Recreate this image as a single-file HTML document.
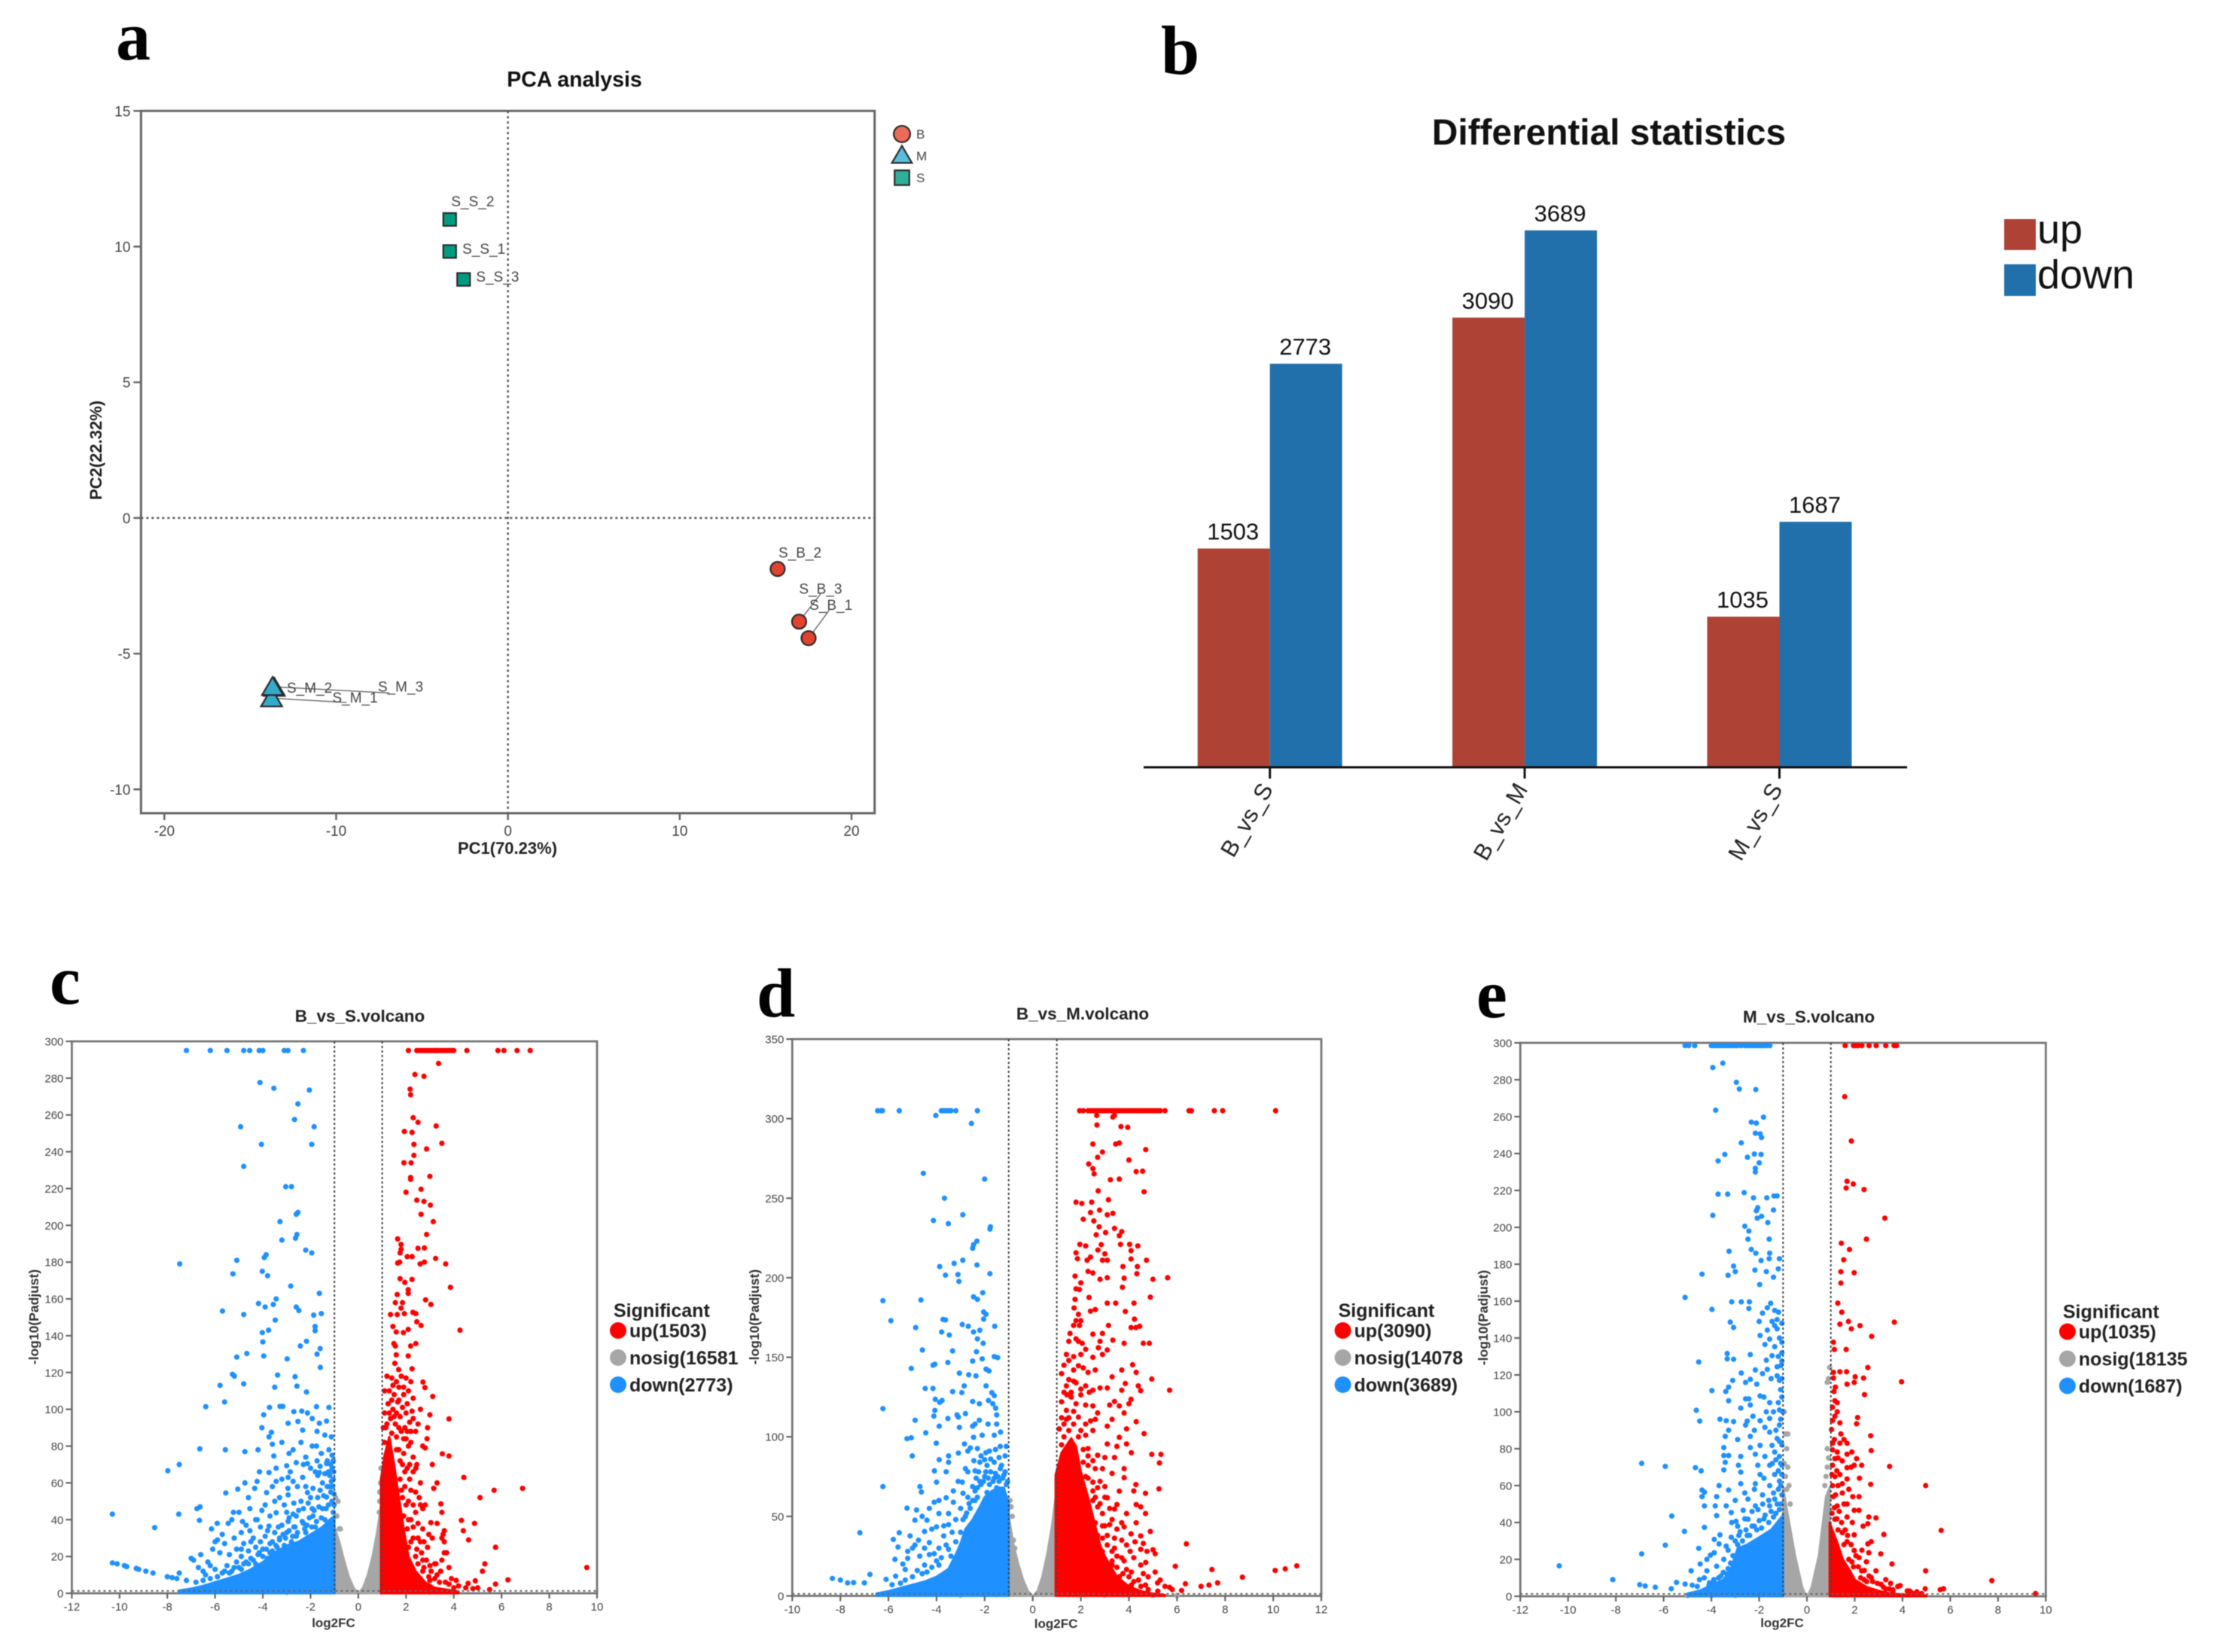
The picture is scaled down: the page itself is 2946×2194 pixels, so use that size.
<!DOCTYPE html>
<html lang="en">
<head>
<meta charset="utf-8">
<title>PCA, differential statistics and volcano plots</title>
<style>
html,body{margin:0;padding:0;background:#fff;width:2946px;height:2194px;overflow:hidden}
svg{display:block;filter:blur(0.6px)}
text{font-family:"Liberation Sans",sans-serif}
</style>
</head>
<body>
<svg id="figure" xmlns="http://www.w3.org/2000/svg" width="2946" height="2194" viewBox="0 0 2946 2194"></svg>
<script>
/* ---------- PCA data ---------- */
const pcaSamples = ["S_S_2","S_S_1","S_S_3","S_B_2","S_B_3","S_B_1","S_M_2","S_M_1","S_M_3"];
const pcaGroups = ["S","S","S","B","B","B","M","M","M"];
const pcaPC1 = [-3.39,-3.39,-2.58,15.7,16.95,17.5,-13.6,-13.76,-13.7];
const pcaPC2 = [11.0,9.82,8.79,-1.88,-3.82,-4.43,-6.25,-6.64,-6.22];
const pcaLabelPC1 = [-2.05,-1.4,-0.6,17,18.2,18.8,-11.55,-8.9,-6.25];
const pcaLabelPC2 = [11.68,9.93,8.9,-1.27,-2.6,-3.2,-6.25,-6.6,-6.2];
const pcaLinkPC1 = [null,null,null,null,18.2,18.7,null,-9.4,-6.9];
const pcaLinkPC2 = [null,null,null,null,-2.8,-3.4,null,-6.8,-6.45];
const pcaXTicks = [-20,-10,0,10,20];
const pcaYTicks = [-10,-5,0,5,10,15];
const pcaLegend = ["B","M","S"];

/* ---------- bar data ---------- */
const barCategories = ["B_vs_S","B_vs_M","M_vs_S"];
const barUp = [1503,3090,1035];
const barDown = [2773,3689,1687];

/* ---------- volcano ticks ---------- */
const volcanoXTicksCE = [-12,-10,-8,-6,-4,-2,0,2,4,6,8,10];
const volcanoXTicksD = [-10,-8,-6,-4,-2,0,2,4,6,8,10,12];
const volcanoYTicksCE = [0,20,40,60,80,100,120,140,160,180,200,220,240,260,280,300];
const volcanoYTicksD = [0,50,100,150,200,250,300,350];

/* ---------- panel c: B_vs_S ---------- */
const cDownCapX = [-7.2,-6.2,-5.5,-4.8,-4.55,-4.15,-4.0,-3.1,-2.95,-2.3];
const cDownCapValue = 295;
const cUpCapX = [2.1,2.45,2.55,2.65,2.75,2.85,2.95,3.05,3.15,3.25,3.3,3.4,3.5,3.6,3.7,3.8,3.9,4.0,4.55,5.85,6.1,6.65,7.2];
const cUpCapValue = 295;
const cDownDense = [[-7.5,1.5],[-7,2.5],[-6.5,4],[-6,6],[-5.5,8],[-5,10],[-4.5,13],[-4,17],[-3.5,22],[-3,26],[-2.5,28],[-2,32],[-1.5,36],[-1.2,40],[-1,42]];
const cUpDense = [[0.95,62],[1.1,75],[1.3,85],[1.5,70],[1.7,52],[1.9,35],[2.1,20],[2.4,12],[2.8,6],[3.2,3],[4.2,1]];
const cNosigLeft = [[-1,36],[-0.8,28],[-0.6,18],[-0.4,9],[-0.2,3],[-0.05,0.5]];
const cNosigRight = [[0.05,0.5],[0.2,3],[0.4,10],[0.6,20],[0.8,34],[0.95,48]];
const cNosigPoints = [[-0.95,52],[-0.85,50],[-0.9,42],[-0.8,35],[-0.75,35],[0.9,55],[0.93,60],[0.95,68],[0.9,50],[0.88,44],[-2,0.6],[-1.5,0.8],[1.5,0.8],[2,0.7],[3,0.6],[-3,0.5],[4,0.4]];
const cDown = [[-4.12,277.6],[-3.54,274.5],[-2.05,273.5],[-2.53,266],[-2.67,257.5],[-4.93,253.6],[-1.85,253.6],[-4.06,244],[-1.95,244],[-4.8,232],[-3.04,221],[-2.8,221],[-2.53,207],[-2.6,206],[-3.28,202],[-3.2,192],[-2.63,193],[-2.57,195],[-2.2,186.5],[-1.95,185],[-3.86,184],[-3.94,182.5],[-5.09,181],[-7.48,179],[-4.02,175],[-3.8,172.6],[-5.25,173.6],[-2.83,167],[-1.63,163],[-3.44,160],[-4.18,157.5],[-3.56,157],[-3.9,155.6],[-5.69,153.4],[-4.8,151.5],[-2.6,155.6],[-2.49,153.7],[-1.87,151.2],[-1.55,152],[-3.48,148.5],[-1.81,145],[-1.81,142.7],[-3.76,143],[-4.02,141.7],[-4,136.6],[-2.17,137],[-2.43,134.4],[-1.6,133],[-1.73,130],[-4.67,130.3],[-5.09,128.4],[-3.96,129],[-2.98,127.4],[-1.59,122.8],[-5.27,119],[-5.19,118],[-3.38,118.6],[-2.65,117.7],[-5.79,113],[-4.8,113.8],[-3.5,112],[-2.57,112.6],[-2.17,109.4],[-5.6,104],[-6.39,101.4],[-3.72,101],[-3.28,101.6],[-3.16,101.6],[-2.7,98.7],[-2.37,99],[-2.13,98],[-1.75,101.4],[-1.23,101],[-3.96,97],[-2.94,92.4],[-2.53,93.4],[-1.93,95],[-1.63,92.4],[-1.33,93.6],[-4.04,90],[-3.64,87.5],[-2.33,88.7],[-1.73,88],[-1.13,85],[-1.4,86],[-3.74,85],[-5.57,78],[-6.64,78.5],[-4.75,77],[-4.2,78],[-3.6,81],[-3.54,74.6],[-2.73,78],[-1.93,80],[-1.23,78],[-2.13,70.5],[-1.33,70.5],[-1.73,72],[-7.5,70],[-7.98,66.6],[-3,69.3],[-3.44,68],[-4.14,66],[-3.74,65.6],[-2.94,63],[-2.33,63],[-1.63,65.6],[-4.75,60],[-4.24,60.8],[-3.44,60.8],[-2.73,60.8],[-1.13,60.8],[-5.05,56.6],[-5.55,54.5],[-4.34,57],[-3.84,54.7],[-2.94,53.5],[-2.13,54.7],[-1.33,52.3],[-6.63,47],[-6.76,46],[-5.23,44],[-7.52,43],[-10.3,43],[-4.54,46],[-4.04,45],[-3.44,43.8],[-2.73,43],[-1.93,46],[-6.65,39.6],[-8.53,35.7],[-5.91,38],[-5.45,38],[-4.85,39],[-4.24,40],[-3.74,36.5],[-2.94,39],[-6.15,35],[-5.9,29],[-4.54,34],[-10.3,16.5],[-10.1,16],[-9.8,15],[-9.7,14.5],[-9.3,13.5],[-9.2,13],[-8.9,12],[-8.6,11],[-8,9],[-7.8,8.5],[-7.6,8],[-7.5,11],[-7.2,7],[-7,19],[-6.9,18],[-6.7,14],[-6.5,12],[-6.3,17],[-6.2,15],[-6,13],[-6.4,10],[-5.9,9],[-5.7,11],[-5.5,15],[-5.3,12],[-5.1,17],[-5,14],[-4.9,20],[-4.7,17],[-4.6,23],[-4.5,19],[-4.3,25],[-4.2,21],[-4.1,28],[-4,24],[-3.9,31],[-3.8,19],[-3.7,27],[-3.6,23],[-3.5,33],[-3.4,25],[-3.3,30],[-3.2,37],[-3.1,26],[-3,33],[-2.9,41],[-2.8,28],[-2.7,36],[-2.6,31],[-2.5,45],[-2.4,27],[-2.3,38],[-2.2,33],[-2.1,49],[-2,30],[-1.9,42],[-1.8,36],[-1.7,52],[-1.6,34],[-1.5,46],[-1.4,40],[-1.3,58],[-1.2,38],[-1.1,50],[-1.05,44],[-1.05,62],[-1.1,68],[-1.2,64],[-1.3,72],[-1.5,60],[-1.7,64],[-1.9,57],[-2.2,58],[-2.4,50],[-2.7,49],[-3.1,48],[-3.5,50],[-3.9,48],[-4.3,40],[-4.7,37],[-5.2,30],[-5.6,27],[-5.8,22],[-6.1,24],[-6.6,21],[-4.9,33]];
const cDownMid = [[-6.8,6],[-6.5,7],[-6.2,8],[-5.9,9],[-5.6,12],[-5.4,11],[-5.2,14],[-4.9,13],[-4.8,16],[-4.6,16],[-4.4,18],[-4.3,16],[-4.15,22],[-4,20],[-3.85,24],[-3.7,22],[-3.6,28],[-3.45,26],[-3.3,29],[-3.15,32],[-3.05,30],[-2.9,34],[-2.75,31],[-2.65,36],[-2.55,33],[-2.35,39],[-2.25,35],[-2.15,37],[-2.05,41],[-1.95,36],[-1.85,45],[-1.75,39],[-1.65,47],[-1.55,41],[-1.45,53],[-1.35,46],[-1.25,48],[-1.15,55],[-1.08,58],[-1.02,48],[-1.02,54],[-1.03,66],[-1.1,75],[-1.05,72],[-1.15,70],[-1.25,66],[-1.4,65],[-1.6,69],[-1.8,66],[-2,68],[-2.3,70],[-2.6,71],[-2.85,66],[-3.2,62],[-3.6,58],[-3.3,52],[-3,44],[-2.6,42],[-2.3,46],[-2,52],[-1.6,56],[-1.2,58],[-3.7,42],[-4.1,36],[-4.4,30],[-4.8,27],[-5.1,24],[-5.4,21],[-3.35,36],[-3.8,34],[-2.95,57],[-2.55,58],[-4.6,52],[-5.3,40],[-6,28],[-5.7,32],[-5,44],[-4.5,28],[-4.9,24],[-1.75,80],[-2.4,82],[-3.2,82],[-2.9,76],[-2.2,74],[-1.55,76]];
const cUp = [[3.36,288],[2.37,282],[2.75,281],[2.17,274],[2.19,271],[2.3,258.5],[2.5,256],[3.26,254],[1.93,251],[2.25,250.5],[2.33,244],[3.5,244.6],[2.86,241.5],[2.33,238],[1.91,234],[2.21,234],[3,226.6],[2.19,226],[2.19,225],[2.63,219.6],[2,218],[2.45,213.7],[2.75,213],[3.02,211],[2.63,206],[3.14,202],[2.86,195],[1.65,192.6],[1.79,189.6],[2.5,187.5],[2.77,187.7],[1.79,187],[1.75,185],[2.05,183],[2.25,183],[3.24,182],[1.73,180],[1.65,179.5],[2.77,180],[2.59,179],[3.66,179],[1.75,171],[2.25,170.6],[1.95,169],[2.09,165],[3.86,166.3],[1.63,162.4],[2.09,163],[2.82,159.5],[3.04,157],[1.55,158],[1.85,158],[1.79,155],[1.35,151.5],[1.63,151.5],[2.29,152.7],[2.41,152],[1.93,152],[1.45,145],[2.63,145.6],[2.45,147.6],[1.59,142],[2.09,143.4],[1.89,141.7],[4.26,143],[1.49,135.7],[1.55,134.4],[2.19,134.4],[2.41,135.7],[1.59,129.6],[2.09,129],[1.53,125],[2.25,122],[1.69,121.6],[2.71,114.8],[2.79,111.8],[3.12,107],[3,97],[3.8,94.8],[2.9,90],[2.88,84],[2.8,79],[3.52,75.8],[3.8,74.6],[2.41,68],[4.42,63],[3.16,57],[6.88,57],[5.69,56],[5.1,52],[3.46,48.6],[2.8,48],[4.32,39.6],[4.87,38],[3.04,38.4],[4.4,34],[4.62,29],[5.75,25],[5.3,16],[5.2,12],[9.57,14],[6.27,7.3],[4.9,6.8],[5.75,5],[3.6,34],[3.6,22],[3.2,16],[2.7,12],[4.1,7],[4.6,5.4],[1.4,117],[1.6,115],[1.8,118],[2,117],[1.3,110],[1.5,108],[1.7,112],[1.9,108],[2.1,110],[2.3,106],[1.25,103],[1.45,100],[1.65,104],[1.85,101],[2.05,103],[2.25,99],[1.1,98],[1.35,95],[1.55,92],[1.75,96],[1.95,90],[2.15,93],[1.15,90],[1.4,87],[1.6,85],[1.8,88],[2,84],[2.2,88],[2.4,88],[1.1,82],[1.7,78],[1.9,76],[2.1,80],[1.85,70],[2.05,68],[2.3,66],[1.75,62],[1.95,58],[2.15,62],[2.4,55],[2.6,60],[1.85,52],[2.1,50],[2.3,48],[2.6,48],[1.9,42],[2.2,40],[2.5,38],[2.7,35],[2.05,35],[2.3,30],[2.6,28],[2.9,25],[2.1,25],[2.4,20],[2.7,18],[3,15],[3.5,18],[3.7,22],[3.6,28],[3.55,32],[2.2,12],[2.6,8],[3,7],[3.4,6],[3.8,5],[4,3],[2.4,5],[3.3,10]];
const cUpMid = [[1.05,90],[1.2,92],[1.3,98],[1.5,96],[1.4,105],[1.6,98],[1.7,90],[1.9,84],[2.05,88],[2.2,82],[1.6,78],[1.75,72],[1.95,66],[2.15,70],[2.3,74],[2.45,70],[1.8,56],[2,48],[2.2,56],[2.4,44],[2.55,52],[2.7,46],[2.1,40],[2.3,36],[2.5,30],[2.75,28],[2.95,32],[2.2,28],[2.45,24],[2.65,22],[2.85,18],[3.05,12],[3.25,16],[2.5,16],[2.75,14],[2.95,9],[3.2,8],[3.45,12],[3.65,6],[3.9,8],[4.2,4],[4.5,3],[3.1,30],[3.3,38],[3.5,44],[1.2,118],[1.45,113],[1.7,105],[1.9,112],[2.2,115],[2.0,98],[2.3,95],[1.1,110],[2.5,92],[2.6,100],[2.7,80],[3.1,70],[3.3,60],[3.5,30],[3.8,14],[5,3],[5.5,2],[4.8,2.5]];

/* ---------- panel d: B_vs_M ---------- */
const dDownCapX = [-6.45,-6.3,-6.25,-5.55,-3.8,-3.7,-3.6,-3.5,-3.4,-3.2,-2.3];
const dDownCapValue = 305;
const dUpCapX = [1.95,2.1,2.3,2.4,2.5,2.6,2.7,2.8,2.9,3.0,3.1,3.2,3.3,3.4,3.5,3.6,3.7,3.8,3.9,4.0,4.1,4.2,4.3,4.4,4.5,4.6,4.7,4.8,4.9,5.0,5.1,5.2,5.3,5.5,6.5,6.6,7.55,7.9,10.1];
const dUpCapValue = 305;
const dDownDense = [[-6.5,1.5],[-6,3],[-5.5,5],[-5,7],[-4.5,9],[-4,12],[-3.5,17],[-3.2,26],[-3,33],[-2.8,42],[-2.5,48],[-2.2,56],[-2,62],[-1.7,66],[-1.4,68],[-1.2,68],[-1,58]];
const dUpDense = [[0.95,76],[1.2,90],[1.6,99],[1.8,94],[2,78],[2.3,62],[2.5,50],[2.8,32],[3,25],[3.5,12],[4,6],[4.5,3],[5,1.5],[5.5,0.5]];
const dNosigLeft = [[-1,50],[-0.8,32],[-0.6,20],[-0.4,10],[-0.2,3],[-0.05,0.5]];
const dNosigRight = [[0.05,0.5],[0.2,3],[0.4,12],[0.6,26],[0.8,44],[0.95,62]];
const dNosigPoints = [[-0.95,60],[-0.9,56],[-0.85,50],[-0.9,35],[-0.8,35],[-0.75,30],[-2,0.6],[-1.5,0.8],[1.5,0.8],[2,0.7],[3,0.6],[-3,0.5],[4,0.4],[5,0.4],[6,0.3]];
const dDown = [[-4.03,302],[-2.55,297],[-4.55,265.6],[-2,262],[-3.67,250],[-2.91,239.6],[-4.13,236],[-3.51,234],[-1.76,232],[-1.78,230.6],[-2.32,223],[-2.5,218.5],[-2.46,220.8],[-3.87,207],[-3.27,209],[-2.91,211],[-2.32,208],[-3.63,201.6],[-3.11,202],[-3.07,197.7],[-1.78,202.5],[-6.23,185.6],[-4.65,186],[-2.46,188],[-2.08,190.6],[-2.3,186.4],[-2.04,178.5],[-1.94,177],[-2.04,174],[-5.9,173],[-3.73,173.8],[-3.63,173.5],[-2.93,170.6],[-2.68,169.5],[-1.58,169.5],[-4.87,168.7],[-3.79,165.9],[-3.47,164],[-2.46,165.9],[-2.2,167],[-2.3,161.6],[-2.06,158.8],[-4.59,154.6],[-3.33,154],[-2.34,153.5],[-1.6,150.4],[-1.46,149.8],[-2.5,147.6],[-2.1,149],[-5.05,143],[-4.15,145],[-4.07,145.6],[-3.53,146.7],[-1.94,142.5],[-1.82,141.4],[-3.05,140],[-2.66,139],[-2.36,138.3],[-2.85,132],[-4.47,130.4],[-4.15,130.4],[-1.94,132],[-3.33,128.4],[-2.95,127.8],[-1.7,127.8],[-1.6,125.9],[-4.05,123.6],[-3.87,121.7],[-3.77,122.8],[-2.5,122.2],[-2.22,120.8],[-1.84,122.8],[-1.66,120.8],[-6.23,117.7],[-4.07,116.6],[-1.54,118],[-4.11,113],[-3.15,113.8],[-2.8,114.6],[-1.5,113.8],[-4.89,110.4],[-3.53,111.5],[-3.09,112.4],[-2.22,110.4],[-2.4,108],[-2.5,106.7],[-1.86,108],[-1.5,108],[-3.89,106.7],[-3.05,105.9],[-4.45,102.5],[-1.34,103],[-5.23,98.8],[-5.05,99.4],[-2.46,99.7],[-2.1,101],[-1.6,101],[-4.01,96],[-2.84,95.5],[-3.09,89.8],[-2.7,91],[-2.3,92.6],[-1.8,91],[-1.1,94],[-5.01,88],[-3.89,85.6],[-3.5,84],[-2,85.6],[-1.4,87],[-4.09,78.6],[-2.8,80],[-2.4,78.6],[-3.5,88],[-4.69,68.7],[-6.23,68.7],[-4.63,65.3],[-4,71.5],[-2.93,71.5],[-2.5,68.7],[-3.6,61.7],[-3.3,58.9],[-2.9,64.5],[-4.1,58.9],[-5.23,55.2],[-4.83,54],[-4.6,50],[-3.9,51.8],[-3.5,51.8],[-4.4,47.6],[-4.9,47.6],[-7.19,39.7],[-5.55,39.7],[-5.8,35.5],[-5.1,37.7],[-4.5,40.5],[-4,43.4],[-3.5,44.8],[-5.6,30.7],[-4.9,32],[-4.3,33.5],[-3.7,37.7],[-5.73,23],[-5.2,23.6],[-4.7,25],[-4.1,26.5],[-3.5,29.3],[-5.3,16.6],[-4.5,19.4],[-3.9,19.4],[-8.33,11],[-8,10],[-7.7,8.2],[-7.45,8.4],[-7,8.2],[-6.77,13.5],[-6.1,10.4],[-5.7,12.4],[-2.6,55],[-2.4,60],[-2.2,72],[-2,75],[-1.8,70],[-1.6,74],[-1.4,72],[-1.2,76],[-1.1,70],[-2.8,50],[-1.9,65],[-2.3,68],[-1.5,68],[-1.3,82],[-1.6,84],[-1.9,82],[-2.2,84]];
const dDownMid = [[-3.4,25],[-3.2,34],[-3,40],[-2.9,48],[-2.75,52],[-2.65,58],[-2.5,60],[-2.4,66],[-2.3,62],[-2.15,70],[-2.05,72],[-1.95,78],[-1.85,74],[-1.75,78],[-1.65,72],[-1.55,77],[-1.45,75],[-1.35,80],[-1.25,74],[-1.15,78],[-1.05,72],[-2.25,78],[-2.35,74],[-2.45,85],[-2.15,88],[-1.95,90],[-1.75,86],[-1.55,92],[-1.35,94],[-1.15,88],[-2.7,62],[-3,55],[-3.2,48],[-3.35,40],[-3.6,32],[-3.8,24],[-4,22],[-4.2,18],[-4.4,15],[-4.6,14],[-4.8,16],[-5,12],[-5.3,10],[-5.5,8],[-5.85,7],[-3.7,44],[-3.3,66],[-3.1,72],[-2.7,78],[-3.9,30],[-4.3,26],[-4.5,30],[-4.75,35],[-5,30],[-5.2,28],[-5.4,20],[-4.2,42],[-3.9,60],[-4.3,55],[-3.6,78],[-2.6,93]];
const dUp = [[2.66,302],[3.33,301],[3.4,302],[2.67,296],[3.67,295],[3.95,294.6],[2.5,284],[3.45,284],[3.6,284.7],[4.7,280.5],[2.9,279],[2.7,275.7],[4,274],[2.33,271.5],[2.5,268.6],[2.55,265.3],[4.3,266.7],[4.57,267],[3.23,261.6],[3.6,262],[4.63,254],[2.72,254.6],[1.8,247.5],[2.04,246.7],[2.45,247.5],[3.15,249],[2.78,242.5],[2.4,241],[3.1,239.6],[3.33,240.5],[2.1,236.8],[2.54,235.7],[2.76,232],[3.4,231],[2.64,227],[3.03,228.4],[3.7,229],[3.6,226.4],[1.96,221],[2.2,220],[2.85,220.8],[3.65,221],[4.03,221],[4.37,220],[1.8,215.7],[2.71,217.4],[1.86,212],[2.4,213],[3,215],[4.09,217],[4.73,211],[2.26,211],[2.9,211],[3.1,211],[2.3,204],[2.5,203],[3.75,207],[4.35,207],[4.09,211.8],[4.33,202.5],[5,199],[5.61,200],[1.76,201],[2,196.8],[2.8,199],[3.1,200],[3.8,199.7],[3.73,194],[2.34,187.6],[1.8,193],[1.94,192.6],[4.89,187.8],[4.21,184],[3.1,184],[3.45,184],[1.76,186.4],[1.72,181],[2.6,180],[2.4,179],[3.85,178.8],[1.9,177],[1.8,173],[2,173],[4.23,174],[3.15,170],[4.09,168.7],[4.29,168.7],[4.45,169.5],[1.94,170],[2.5,164.5],[2.9,165],[1.8,161.6],[1.5,160],[2.06,158.8],[3.33,160.8],[3.8,158.8],[4.6,158.8],[4.85,158.8],[2.8,160],[2.73,156],[1.4,151.8],[2,151.8],[1.7,150.4],[3.1,154.6],[2.9,151.8],[4.15,145.3],[4.3,140.5],[3.7,142],[1.2,139.7],[1.9,144.7],[2.1,143.3],[2.3,140.5],[4.95,136.3],[5.69,129.3],[1.5,136],[1.7,135],[3.3,137.7],[3.85,133.5],[4.39,132],[4.49,129],[3.1,130.7],[2.8,130.7],[2.5,129.3],[1.42,126.4],[2,126.4],[3.7,129.3],[4.09,123.6],[4,120.8],[3.4,122.2],[3.6,119.4],[2.5,119.4],[1.8,120.8],[1.4,116.6],[2.7,115],[3.8,115],[4.3,109.5],[3.3,111],[3.1,106.7],[1.4,111],[1.9,112.4],[2.2,108],[2.6,111],[4.63,102],[3.6,99.7],[3.1,95.5],[2.5,104],[2.2,101],[3.5,94],[3.9,95.5],[4.95,89],[5.33,89],[5.27,83.6],[2.7,88.4],[3,87],[3.4,87],[2.3,92.6],[3.8,80],[2.6,80],[2.9,80],[3.3,77],[3.8,74.3],[4.29,70],[4.2,66],[4.69,64.5],[5.25,67.3],[2.5,71.5],[3,68.7],[3.6,65.9],[2.5,60],[3.1,61.7],[3.5,57.4],[4.3,57.4],[4.49,56],[4.69,51.8],[2.9,51.8],[3.4,54.6],[3.9,51.8],[2.6,46],[3.2,44.8],[3.8,43.4],[4.3,46],[4.89,40.5],[4.49,37.7],[4.09,39],[3.4,36.3],[2.9,36.3],[5,29],[6.39,32.7],[5.09,26.5],[4.49,29.3],[3.9,32],[2.9,27.9],[3.5,25],[2.7,22],[3.3,19.4],[4.49,19.4],[5.09,15],[5.93,18.6],[3.9,16.6],[7.45,16.6],[8.72,11.8],[10.08,16],[10.5,17],[10.98,18.9],[7.69,8.2],[7.33,6.8],[7,6],[6.35,7.6],[5.69,5.4],[5.19,8.2],[4.69,6.8],[4.1,6.8],[3.1,8],[6.19,3.4],[1.3,100],[1.5,104],[1.7,108],[2,104],[1.2,112],[1.6,125],[1.3,128],[1.1,105],[1.2,95],[2.3,82],[2.5,85],[2.2,75],[2.7,68],[2.8,58],[3.3,48],[3.7,46],[3.1,38],[3.3,28],[3.7,24],[4.2,24],[4.7,21],[3,16],[3.6,12],[4.4,10],[2.8,12],[4.8,12]];
const dUpMid = [[1.1,105],[1.3,108],[1.5,112],[1.7,116],[1.9,100],[2.1,92],[2.3,88],[1.2,122],[1.4,132],[1.6,128],[1.8,134],[2,130],[2.2,120],[2.4,110],[1.3,145],[1.5,148],[1.7,142],[2.2,132],[2.35,128],[2.1,84],[2.3,74],[2.5,66],[2.7,56],[2.9,44],[3.1,32],[3.3,22],[3.5,18],[3.75,14],[4,12],[4.2,9],[4.5,6],[4.8,4],[5.2,3],[2.6,62],[2.8,72],[3,62],[3.2,55],[3.5,42],[3.7,35],[4.05,28],[4.25,34],[4.6,33],[4.75,28],[2.7,38],[3,44],[3.4,30],[3.8,22],[4.1,15],[4.6,14],[5.3,10],[5.5,6],[5.8,4],[1.55,165],[1.7,170],[2.2,155],[2.5,150],[2.6,142],[1.9,160],[3.2,120],[3.9,105],[4.1,90]];

/* ---------- panel e: M_vs_S ---------- */
const eDownCapX = [-5.1,-4.95,-4.7,-4.0,-3.9,-3.8,-3.7,-3.6,-3.5,-3.4,-3.3,-3.2,-3.1,-3.0,-2.9,-2.75,-2.6,-2.5,-2.4,-2.3,-2.2,-2.1,-2.0,-1.9,-1.8,-1.7,-1.55];
const eDownCapValue = 298.5;
const eUpCapX = [1.6,1.95,2.05,2.15,2.3,2.6,2.9,3.3,3.65,3.75];
const eUpCapValue = 298.5;
const eDownDense = [[-5,1.5],[-4.5,3],[-4,6],[-3.5,9],[-3.2,14],[-3,22],[-2.9,26],[-2.5,28],[-2,32],[-1.5,36],[-1,44]];
const eUpDense = [[0.95,40],[1.1,35],[1.3,28],[1.5,20],[1.8,14],[2,9],[2.5,5],[3,3],[3.5,1.5],[4,1],[5,0.4]];
const eNosigLeft = [[-1,59],[-0.8,44],[-0.5,22],[-0.2,5],[-0.05,0.5]];
const eNosigRight = [[0.05,0.5],[0.2,5],[0.5,22],[0.8,54],[0.95,59]];
const eNosigPoints = [[-0.95,100],[-0.9,88],[-0.8,88],[-0.85,80],[-0.95,72],[-0.9,65],[-0.85,58],[0.85,80],[0.9,75],[0.85,116],[0.95,124],[0.9,118],[0.85,70],[0.75,60],[-0.8,70],[-0.75,60],[-0.7,50],[0.8,65],[-2,0.6],[-3,0.5],[2,0.6],[4,0.4],[-4,0.4],[-5,0.4]];
const eDown = [[-3.52,289],[-3.94,286.6],[-2.95,278.6],[-2.83,275],[-2.14,274.7],[-3.82,263.5],[-1.82,259.7],[-2.33,257],[-2.12,256.5],[-2.16,251],[-1.96,250.7],[-1.9,248.7],[-2.75,245.8],[-3.44,239.5],[-2.2,239.7],[-1.92,239.5],[-2.49,238],[-3.72,236],[-2,235],[-2.16,232],[-2.16,230],[-2.63,218.8],[-3.72,218],[-3.32,218],[-2.24,216],[-1.68,216],[-1.38,217],[-1.25,217],[-2.06,210.6],[-2.12,209],[-1.4,209.4],[-3.94,206.5],[-1.9,206],[-2.08,205],[-1.64,202.6],[-2.6,200.6],[-2.43,198],[-2.47,193.6],[-1.58,193.6],[-3.26,187],[-2.33,188],[-2.14,186],[-1.56,186],[-1.15,183],[-1.58,183],[-1.92,182],[-3.07,179],[-3,176],[-2.18,176.8],[-1.7,176],[-1.2,177.5],[-4.39,174.6],[-3.3,174],[-1.4,173],[-1.98,169],[-5.1,162],[-3.15,159.6],[-2.75,159.6],[-2.41,159.6],[-1.52,158.8],[-3.98,155.5],[-2.43,156],[-1.66,156.4],[-1.86,153.5],[-1.19,154],[-3.21,148.6],[-2,149],[-1.46,149],[-3.07,145.7],[-1.35,146.7],[-1.25,145],[-1.66,144.3],[-1.96,141.4],[-1.05,137.7],[-1.56,139.4],[-1.76,136.5],[-1.35,135.3],[-3.34,131.6],[-3.34,128.7],[-3.07,128.5],[-2.37,131],[-4.53,127],[-1.7,128],[-1.46,130.4],[-1.05,127.5],[-1.25,124.4],[-2.75,121],[-1.66,123],[-2.16,122.7],[-1.86,120.7],[-1.25,119.5],[-3.11,117],[-2.37,117.6],[-2.57,115.9],[-1.15,117],[-2.1,115],[-3.98,111.5],[-3.4,111],[-3.28,113.4],[-2.57,107],[-2.43,107],[-1.96,108.6],[-1.8,108],[-3.28,106],[-1.56,105],[-4.63,100.8],[-2.77,102],[-2.37,103.7],[-1.15,101],[-1.02,100],[-4.49,95],[-3.64,96],[-3.38,95.2],[-3.07,94.7],[-2.26,97.6],[-1.96,95.2],[-1.56,96.4],[-2.57,92.8],[-1.76,91.6],[-2.37,86.7],[-3.42,86.7],[-3.28,90],[-1.56,89],[-1.15,92.8],[-1.25,85.5],[-3.48,80.6],[-2.37,80.6],[-1.96,81.8],[-1.46,81.8],[-3.48,76.3],[-3.28,76.3],[-2.77,75.8],[-2.16,77],[-1.76,75.8],[-1.35,78.2],[-1.15,75.8],[-3.42,72.6],[-6.92,72.1],[-5.93,70.4],[-4.67,69.7],[-4.43,68],[-2.87,71],[-2.06,71],[-1.56,71],[-1.05,71],[-3.48,68.5],[-2.77,67.3],[-1.96,66],[-1.35,66],[-3.68,60],[-4.39,57.6],[-4.29,56.4],[-4.39,54],[-3.78,54],[-3.28,57.6],[-2.77,61],[-2.16,61],[-1.56,60],[-1.15,62.4],[-2.47,52.7],[-1.86,55],[-1.35,52.7],[-4.29,49],[-3.38,49],[-3.84,49],[-2.67,46.6],[-2.16,49],[-1.56,49],[-5.66,43.5],[-3.78,43.7],[-3.17,45.4],[-4.29,37.4],[-5.13,35.2],[-2.97,40.6],[-2.47,41.8],[-3.64,33.3],[-3.88,30.8],[-3.17,32],[-5.93,27.7],[-4.53,26],[-3.68,28.4],[-3.38,27.2],[-6.92,23],[-4.04,22.3],[-3.88,23.6],[-4.19,20],[-3.48,20],[-10.37,16.5],[-4.47,17.5],[-3.78,16.3],[-4.85,13.8],[-4.19,13.8],[-8.13,9],[-5.46,7.5],[-7,6.3],[-6.77,5.6],[-6.35,4.9],[-5.68,4.1],[-5.1,6.6],[-4.59,5.3],[-4.08,7.3],[-2.8,35],[-2.5,33],[-2.9,28],[-2.2,38],[-1.8,42],[-1.3,45],[-1.1,50],[-2.7,25],[-3.1,22],[-3.3,15],[-3.6,11],[-3.9,9]];
const eDownMid = [[-3,30],[-2.85,33],[-2.7,30],[-2.55,36],[-2.4,33],[-2.3,38],[-2.1,36],[-2,41],[-1.9,37],[-1.75,44],[-1.6,40],[-1.5,46],[-1.4,43],[-1.25,50],[-1.15,47],[-1.05,55],[-1.1,60],[-1.2,58],[-1.4,56],[-1.6,52],[-1.85,50],[-2.05,47],[-2.3,46],[-2.6,42],[-2.9,38],[-3.2,18],[-3.35,12],[-3.5,13],[-3.7,10],[-3.9,8],[-4.1,6],[-4.3,10],[-4.5,9],[-4.8,6],[-1.05,66],[-1.1,72],[-1.2,68],[-1.3,74],[-1.45,72],[-1.15,84],[-1.05,82],[-1.3,90],[-1.1,96],[-1.05,108],[-1.1,112],[-1.2,105],[-1.4,100],[-1.7,100],[-1.05,118],[-1.1,125],[-1.05,132],[-1.15,140],[-1.25,150],[-1.35,155],[-1.05,148],[-1.2,130],[-1.5,118],[-2.5,95],[-2.2,90],[-2.9,85],[-1.8,64],[-2.2,58],[-2.6,56],[-3,52],[-3.15,40],[-3.3,25]];
const eUp = [[1.58,270.8],[1.86,246.8],[1.68,225],[1.94,223.5],[1.64,221.3],[2.39,220.5],[3.26,205],[2.49,193.6],[1.44,191.4],[1.78,188],[1.54,182.4],[1.42,175.9],[1.98,175.4],[1.42,169.8],[1.29,158.9],[1.46,154],[1.74,149],[1.38,147.5],[2.22,146.7],[3.66,148.6],[1.86,145],[2.71,140.9],[1.11,137.7],[1.64,133.8],[1.15,133.8],[2.55,124],[1.11,121.4],[1.38,121.7],[1.66,121.7],[2.02,119],[2.37,118.3],[1.11,118.3],[1.98,115.9],[1.68,115],[3.96,116.3],[1.19,113.4],[1.13,111],[2.41,109.3],[1.17,106],[1.27,105],[1.07,102.5],[1.27,100],[2.12,96.9],[1.17,97.6],[2.08,93.5],[1.07,95.2],[1.38,94],[1.03,90.4],[2.67,87],[1.42,88],[2.69,79],[1.07,83],[1.38,83],[1.68,83],[1.07,79.4],[1.27,78.2],[1.68,77],[1.88,78.2],[1.17,74.6],[1.48,73.4],[2.08,74.6],[2.29,71],[3.46,70.4],[1.98,71],[1.07,71],[1.68,69.7],[1.38,66],[1.17,64.9],[1.68,63.6],[2.67,60.7],[4.97,60],[1.48,61],[1.07,60],[1.92,54],[2.18,54],[1.68,50],[1.27,49],[1.48,56],[1.98,46.6],[2.18,46.6],[2.59,43],[2.89,42.5],[2.55,39.3],[1.68,43],[1.17,41.8],[5.62,35.7],[3.22,33.5],[1.98,33.3],[1.48,34.5],[2.69,29.6],[2.55,28.4],[1.68,29.6],[3.09,23],[2.59,23.6],[1.98,24.8],[2.18,21],[3.56,17.5],[2.49,18.7],[1.88,18.7],[4.97,13.8],[2.89,13.8],[2.29,13.8],[7.74,8.5],[9.57,1.5],[5.72,4.1],[5.58,3.6],[3.8,5.3],[3.9,5.8],[4.2,2.9],[4.6,2.4],[4.95,4.1],[3.3,4],[3.1,6.5],[2.69,10.2],[2.39,9]];
const eUpMid = [[1.05,45],[1.15,48],[1.1,54],[1.25,42],[1.35,46],[1.2,55],[1.3,60],[1.05,66],[1.25,68],[1.55,50],[1.45,40],[1.6,36],[1.3,36],[1.7,33],[1.85,28],[2.05,22],[2.3,25],[2.15,16],[2.4,14],[2.6,11],[2.75,8],[2.95,7],[3.2,5],[3.45,4],[3.6,3.5],[1.75,20],[1.55,28],[1.95,16],[2.25,10],[2.5,8],[1.15,85],[1.3,75],[1.55,85],[1.85,70],[1.75,58],[2.2,64],[1.9,40],[2.35,38],[3.6,2.5],[4.3,2.8],[4.4,1.8],[4.8,1.5],[3.3,9],[3.5,7]];

/* ---------- drawing helpers ---------- */
const SVGNS = "http://www.w3.org/2000/svg";
const fig = document.getElementById("figure");
function linear(d0, d1, r0, r1) { return v => r0 + (v - d0) * (r1 - r0) / (d1 - d0); }
function shape(parent, tag, attrs, name) {
  const el = document.createElementNS(SVGNS, tag);
  for (const k in attrs) el.setAttribute(k, attrs[k]);
  
  
  parent.appendChild(el);
  return el;
}
function group(parent, name) { return shape(parent, "g", {}, name); }
function label(parent, x, y, str, size, name, o) {
  o = o || {};
  const a = { x: x, y: y, "font-size": size, fill: o.fill || "#444", "text-anchor": o.anchor || "start", "font-weight": o.weight || "normal" };
  if (o.rot) a.transform = "rotate(" + o.rot + " " + x + " " + y + ")";
  if (o.family) a.style = "font-family:" + o.family;
  const el = shape(parent, "text", a, name);
  el.textContent = str;
  return el;
}
const SERIF = '"Liberation Serif",serif';
const panelLetters = [["a",154,79],["b",1542,98],["c",66,1333],["d",1005,1350],["e",1961,1351]];
panelLetters.forEach(p => label(fig, p[1], p[2], p[0], 92, "panel-letter-" + p[0], { fill: "#000", weight: "bold", family: SERIF }));

/* ---------- panel a ---------- */
(function () {
  const L = 187.3, R = 1161.7, T = 147.3, B = 1080;
  const x = linear(-20, 20, 218.3, 1131);
  const y = linear(-10, 15, 1048.3, T);
  const g = group(fig, "pca-chart");
  label(g, 763, 115, "PCA analysis", 28.5, "pca-title", { anchor: "middle", weight: "bold", fill: "#111" });
  shape(g, "rect", { x: L, y: T, width: R - L, height: B - T, fill: "#fff", stroke: "#666", "stroke-width": 3 }, "pca-plot-frame");
  shape(g, "line", { x1: x(0), x2: x(0), y1: T, y2: B, stroke: "#555", "stroke-width": 2.5, "stroke-dasharray": "3 4" }, "pca-zero-vertical");
  shape(g, "line", { x1: L, x2: R, y1: y(0), y2: y(0), stroke: "#555", "stroke-width": 2.5, "stroke-dasharray": "3 4" }, "pca-zero-horizontal");
  pcaXTicks.forEach(t => {
    shape(g, "line", { x1: x(t), x2: x(t), y1: B, y2: B + 9, stroke: "#666", "stroke-width": 2.5 }, "pca-x-tick");
    label(g, x(t), B + 30, String(t), 19, "pca-x-tick-label", { anchor: "middle" });
  });
  pcaYTicks.forEach(t => {
    shape(g, "line", { x1: L - 10, x2: L, y1: y(t), y2: y(t), stroke: "#666", "stroke-width": 2.5 }, "pca-y-tick");
    label(g, L - 14, y(t) + 7, String(t), 19, "pca-y-tick-label", { anchor: "end" });
  });
  label(g, 674, 1134, "PC1(70.23%)", 22, "pca-x-axis-title", { anchor: "middle", weight: "bold", fill: "#222" });
  label(g, 135, 598, "PC2(22.32%)", 22, "pca-y-axis-title", { anchor: "middle", weight: "bold", fill: "#222", rot: -90 });
  const fills = { B: "#E1432E", M: "#35ABCB", S: "#009B82" };
  function marker(parent, grp, cx, cy, k, fill, name) {
    const st = { fill: fill, stroke: "#2b2b2b", "stroke-width": 2.2 };
    if (grp === "B") return shape(parent, "circle", Object.assign({ cx: cx, cy: cy, r: 9.5 * k }, st), name);
    if (grp === "S") return shape(parent, "rect", Object.assign({ x: cx - 8.5 * k, y: cy - 8.5 * k, width: 17 * k, height: 17 * k }, st), name);
    const h = 13 * k, w = 14 * k;
    return shape(parent, "polygon", Object.assign({ points: [cx, cy - h, cx + w, cy + h - 2, cx - w, cy + h - 2].join(",") }, st), name);
  }
  pcaSamples.forEach((s, i) => {
    if (pcaLinkPC1[i] !== null) {
      shape(g, "line", { x1: x(pcaPC1[i]), y1: y(pcaPC2[i]), x2: x(pcaLinkPC1[i]), y2: y(pcaLinkPC2[i]), stroke: "#666", "stroke-width": 1.4 }, "pca-label-connector");
    }
  });
  pcaSamples.forEach((s, i) => {
    marker(g, pcaGroups[i], x(pcaPC1[i]), y(pcaPC2[i]), 1, fills[pcaGroups[i]], "pca-point-" + s);
  });
  pcaSamples.forEach((s, i) => {
    label(g, x(pcaLabelPC1[i]), y(pcaLabelPC2[i]) + 7, s, 19, "pca-point-label", { anchor: "middle" });
  });
  const legendFills = { B: "#EC6B58", M: "#58BEDB", S: "#2FB098" };
  const lg = group(g, "pca-legend");
  pcaLegend.forEach((s, i) => {
    const cy = 178 + i * 29;
    marker(lg, s, 1198, cy + (s === "M" ? -1 : 0), s === "B" ? 1.15 : (s === "S" ? 1.15 : 0.95), legendFills[s], "pca-legend-marker-" + s);
    label(lg, 1217, cy + 6, s, 17, "pca-legend-label-" + s);
  });
})();

/* ---------- panel b ---------- */
(function () {
  const base = 1019, w = 96, first = 1686.7, step = 338.4;
  const y = linear(0, 3689, base, 306);
  const cx = i => first + i * step;
  const g = group(fig, "differential-bar-chart");
  label(g, 2137, 192, "Differential statistics", 47.8, "bar-chart-title", { anchor: "middle", weight: "bold", fill: "#111" });
  barCategories.forEach((c, i) => {
    shape(g, "rect", { x: cx(i) - w, y: y(barUp[i]), width: w, height: base - y(barUp[i]), fill: "#AE4235" }, "bar-up-" + c);
    shape(g, "rect", { x: cx(i), y: y(barDown[i]), width: w, height: base - y(barDown[i]), fill: "#2270AB" }, "bar-down-" + c);
    label(g, cx(i) - w / 2 - 1, y(barUp[i]) - 12, String(barUp[i]), 31, "bar-value-up", { anchor: "middle", fill: "#111" });
    label(g, cx(i) + w / 2 - 1, y(barDown[i]) - 12, String(barDown[i]), 31, "bar-value-down", { anchor: "middle", fill: "#111" });
    shape(g, "line", { x1: cx(i), x2: cx(i), y1: base, y2: base + 15, stroke: "#111", "stroke-width": 3 }, "bar-x-tick");
    label(g, cx(i) + 5, base + 29, c, 31, "bar-category-label", { anchor: "end", fill: "#222", rot: -60 });
  });
  shape(g, "line", { x1: 1519, x2: 2533, y1: base, y2: base, stroke: "#111", "stroke-width": 3 }, "bar-x-axis");
  const lg = group(g, "bar-legend");
  shape(lg, "rect", { x: 2662, y: 291, width: 42, height: 41, fill: "#AE4235" }, "legend-swatch-up");
  label(lg, 2706, 323, "up", 54, "legend-label-up", { fill: "#111" });
  shape(lg, "rect", { x: 2662, y: 351, width: 42, height: 42, fill: "#2270AB" }, "legend-swatch-down");
  label(lg, 2706, 383, "down", 54, "legend-label-down", { fill: "#111" });
})();

/* ---------- panels c, d, e ---------- */
function volcano(p) {
  const g = group(fig, p.id + "-volcano-chart");
  const x = linear(p.xTicks[0], p.xTicks[p.xTicks.length - 1], p.L, p.R);
  const yMax = p.yTicks[p.yTicks.length - 1];
  const y = linear(0, yMax, p.B, p.T);
  label(g, p.titleX, p.titleY, p.title, 22.5, p.id + "-title", { anchor: "middle", weight: "bold", fill: "#222" });
  shape(g, "rect", { x: p.L, y: p.T, width: p.R - p.L, height: p.B - p.T, fill: "#fff", stroke: "#777", "stroke-width": 2.8 }, p.id + "-plot-frame");
  function area(pts, color, name) {
    const first = pts[0], last = pts[pts.length - 1];
    const all = [[first[0], 0]].concat(pts, [[last[0], 0]]);
    shape(g, "polygon", { points: all.map(q => x(q[0]).toFixed(1) + "," + y(q[1]).toFixed(1)).join(" "), fill: color, stroke: color, "stroke-width": 3, "stroke-linejoin": "round" }, name);
  }
  function dots(pts, color, name) {
    const sub = group(g, name);
    pts.forEach(q => {
      shape(sub, "circle", { cx: x(q[0]).toFixed(1), cy: y(q[1]).toFixed(1), r: 3.6, fill: color }, name + "-point");
    });
  }
  area(p.nosigL, "#A6A6A6", p.id + "-nosig-left-density");
  area(p.nosigR, "#A6A6A6", p.id + "-nosig-right-density");
  dots(p.nosigPts, "#A6A6A6", p.id + "-nosig-points");
  area(p.downDense, "#1E90FF", p.id + "-down-density");
  area(p.upDense, "#FF0000", p.id + "-up-density");
  dots(p.down.concat(p.downCap.map(v => [v, p.downCapValue])), "#1E90FF", p.id + "-down-points");
  dots(p.up.concat(p.upCap.map(v => [v, p.upCapValue])), "#FF0000", p.id + "-up-points");
  shape(g, "line", { x1: x(-1), x2: x(-1), y1: p.T, y2: p.B, stroke: "#444", "stroke-width": 2, "stroke-dasharray": "3 3" }, p.id + "-threshold-down");
  shape(g, "line", { x1: x(1), x2: x(1), y1: p.T, y2: p.B, stroke: "#444", "stroke-width": 2, "stroke-dasharray": "3 3" }, p.id + "-threshold-up");
  shape(g, "line", { x1: p.L, x2: p.R, y1: y(1.3), y2: y(1.3), stroke: "#666", "stroke-width": 2, "stroke-dasharray": "3 4" }, p.id + "-threshold-padj");
  p.xTicks.forEach(t => {
    shape(g, "line", { x1: x(t), x2: x(t), y1: p.B, y2: p.B + 7, stroke: "#666", "stroke-width": 2.2 }, p.id + "-x-tick");
    label(g, x(t), p.B + 23, String(t), 15, p.id + "-x-tick-label", { anchor: "middle" });
  });
  p.yTicks.forEach(t => {
    shape(g, "line", { x1: p.L - 8, x2: p.L, y1: y(t), y2: y(t), stroke: "#666", "stroke-width": 2.2 }, p.id + "-y-tick");
    label(g, p.L - 11, y(t) + 5.5, String(t), 15, p.id + "-y-tick-label", { anchor: "end" });
  });
  label(g, p.xLabelX, p.xLabelY, "log2FC", 17, p.id + "-x-axis-title", { anchor: "middle", weight: "bold", fill: "#333" });
  label(g, p.yLabelX, p.yLabelY, "-log10(Padjust)", 17.5, p.id + "-y-axis-title", { anchor: "middle", weight: "bold", fill: "#333", rot: -90 });
  const lg = group(g, p.id + "-legend");
  label(lg, p.legX, p.legY, "Significant", 25, p.id + "-legend-title", { weight: "bold", fill: "#222" });
  p.legend.forEach((t, i) => {
    const cy = p.legY + 27 + i * 36;
    shape(lg, "circle", { cx: p.legX + 6, cy: cy - 9, r: 11, fill: p.legendColors[i] }, p.id + "-legend-dot");
    label(lg, p.legX + 21, cy, t, 25, p.id + "-legend-label", { weight: "bold", fill: "#222" });
  });
}
const volcanoLegendColors = ["#FF0000", "#A6A6A6", "#1E90FF"];
volcano({ id: "c", title: "B_vs_S.volcano", titleX: 478, titleY: 1357, L: 95.4, R: 793, T: 1383, B: 2116, xTicks: volcanoXTicksCE, yTicks: volcanoYTicksCE,
  xLabelX: 443, xLabelY: 2161, yLabelX: 51, yLabelY: 1749, legX: 815, legY: 1749, legend: ["up(1503)", "nosig(16581", "down(2773)"], legendColors: volcanoLegendColors,
  down: cDown.concat(cDownMid), up: cUp.concat(cUpMid), downCap: cDownCapX, upCap: cUpCapX, downCapValue: cDownCapValue, upCapValue: cUpCapValue, downDense: cDownDense, upDense: cUpDense, nosigL: cNosigLeft, nosigR: cNosigRight, nosigPts: cNosigPoints });
volcano({ id: "d", title: "B_vs_M.volcano", titleX: 1438, titleY: 1354, L: 1052.3, R: 1755, T: 1380, B: 2119.5, xTicks: volcanoXTicksD, yTicks: volcanoYTicksD,
  xLabelX: 1402.6, xLabelY: 2162, yLabelX: 1008, yLabelY: 1749, legX: 1777.6, legY: 1749, legend: ["up(3090)", "nosig(14078", "down(3689)"], legendColors: volcanoLegendColors,
  down: dDown.concat(dDownMid), up: dUp.concat(dUpMid), downCap: dDownCapX, upCap: dUpCapX, downCapValue: dDownCapValue, upCapValue: dUpCapValue, downDense: dDownDense, upDense: dUpDense, nosigL: dNosigLeft, nosigR: dNosigRight, nosigPts: dNosigPoints });
volcano({ id: "e", title: "M_vs_S.volcano", titleX: 2402.6, titleY: 1358, L: 2019.3, R: 2717.3, T: 1385, B: 2120, xTicks: volcanoXTicksCE, yTicks: volcanoYTicksCE,
  xLabelX: 2367, xLabelY: 2161, yLabelX: 1976, yLabelY: 1750, legX: 2740, legY: 1750.5, legend: ["up(1035)", "nosig(18135", "down(1687)"], legendColors: volcanoLegendColors,
  down: eDown.concat(eDownMid), up: eUp.concat(eUpMid), downCap: eDownCapX, upCap: eUpCapX, downCapValue: eDownCapValue, upCapValue: eUpCapValue, downDense: eDownDense, upDense: eUpDense, nosigL: eNosigLeft, nosigR: eNosigRight, nosigPts: eNosigPoints });
</script>
</body>
</html>
